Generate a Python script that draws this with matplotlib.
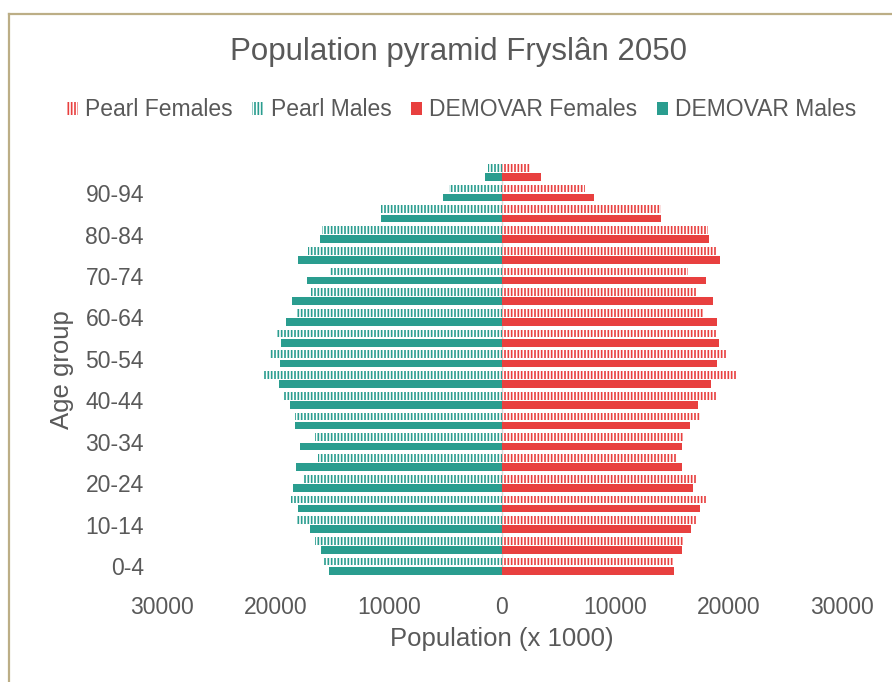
import numpy as np
from matplotlib import pyplot as plt
from matplotlib.lines import Line2D
from matplotlib.patches import Patch
from matplotlib.ticker import FuncFormatter

plt.rcParams['font.family'] = ['Liberation Sans', 'DejaVu Sans']
plt.rcParams['hatch.linewidth'] = 1.2

age_groups = ['0-4', '5-9', '10-14', '15-19', '20-24', '25-29', '30-34', '35-39', '40-44', '45-49',
              '50-54', '55-59', '60-64', '65-69', '70-74', '75-79', '80-84', '85-89', '90-94', '95+']

# values, bottom (0-4) to top (95+)
pearl_males = [15750, 16510, 18140, 18630, 17550, 16200, 16510, 18250, 19310, 21080,
               20430, 19900, 18140, 16870, 15160, 17080, 15900, 10640, 4720, 1220]
demovar_males = [15250, 15980, 16900, 17960, 18430, 18140, 17780, 18250, 18720, 19660,
                 19600, 19490, 19050, 18540, 17220, 17960, 16020, 10690, 5190, 1540]
pearl_females = [15080, 16080, 17140, 18110, 17110, 15400, 16020, 17490, 18900, 20640,
                 19810, 18930, 17820, 17110, 16430, 18840, 18170, 13990, 7320, 2460]
demovar_females = [15200, 15840, 16700, 17490, 16810, 15900, 15880, 16550, 17320, 18440,
                   18980, 19110, 18990, 18580, 18000, 19200, 18230, 14020, 8080, 3430]

red = '#E8403F'
teal = '#2A9D8F'
text_col = '#595959'

fig = plt.figure(figsize=(8.92, 6.82), dpi=100)
ax = fig.add_axes([162 / 892, 105.5 / 682, 680 / 892, 414.5 / 682])

y = np.arange(len(age_groups))
h = 0.37
off = 0.22

ax.barh(y + off, pearl_females, height=h, color='white', edgecolor=red, hatch='|||||', linewidth=0)
ax.barh(y + off, -np.array(pearl_males), height=h, color='white', edgecolor=teal, hatch='|||||', linewidth=0)
ax.barh(y - off, demovar_females, height=h, color=red, linewidth=0)
ax.barh(y - off, -np.array(demovar_males), height=h, color=teal, linewidth=0)

ax.axvline(0, ymin=0.02, ymax=0.99, color='#D9D9D9', linewidth=1, zorder=0)

ax.set_xlim(-30000, 30000)
ax.set_ylim(-0.5, len(age_groups) - 0.5)
ax.set_xticks([-30000, -20000, -10000, 0, 10000, 20000, 30000])
ax.xaxis.set_major_formatter(FuncFormatter(lambda v, p: str(int(abs(v)))))
ax.set_yticks(y[::2])
ax.set_yticklabels(age_groups[::2])
ax.tick_params(axis='both', length=0, labelsize=16.5, labelcolor=text_col)
ax.tick_params(axis='x', pad=14)
ax.tick_params(axis='y', pad=13)
for s in ax.spines.values():
    s.set_visible(False)

ax.set_xlabel('Population (x 1000)', fontsize=18.5, color=text_col, labelpad=6)
ax.set_ylabel('Age group', fontsize=18.5, color=text_col, labelpad=8)

fig.text(458 / 892, 1 - 52 / 682, 'Population pyramid Fryslân 2050', fontsize=22.5,
         color=text_col, ha='center', va='center')

handles = [
    Patch(facecolor='white', edgecolor=red, hatch='|||||', linewidth=0, label='Pearl Females'),
    Patch(facecolor='white', edgecolor=teal, hatch='|||||', linewidth=0, label='Pearl Males'),
    Patch(facecolor=red, linewidth=0, label='DEMOVAR Females'),
    Patch(facecolor=teal, linewidth=0, label='DEMOVAR Males'),
]
leg = fig.legend(handles=handles, loc='center', bbox_to_anchor=(461.5 / 892, 1 - 110 / 682), ncol=4,
                 frameon=False, fontsize=16.5, handlelength=0.5, handleheight=0.5, handletextpad=0.3,
                 columnspacing=0.85, borderaxespad=0)
for t in leg.get_texts():
    t.set_color(text_col)

# chart border, cut off at the right and bottom
border = '#BCAE86'
fig.add_artist(Line2D([8.5 / 892, 8.5 / 892], [0, 1 - 13.5 / 682], color=border, linewidth=1.6))
fig.add_artist(Line2D([8.5 / 892, 1], [1 - 13.5 / 682, 1 - 13.5 / 682], color=border, linewidth=1.6))

fig.savefig('out.png', dpi=100)
